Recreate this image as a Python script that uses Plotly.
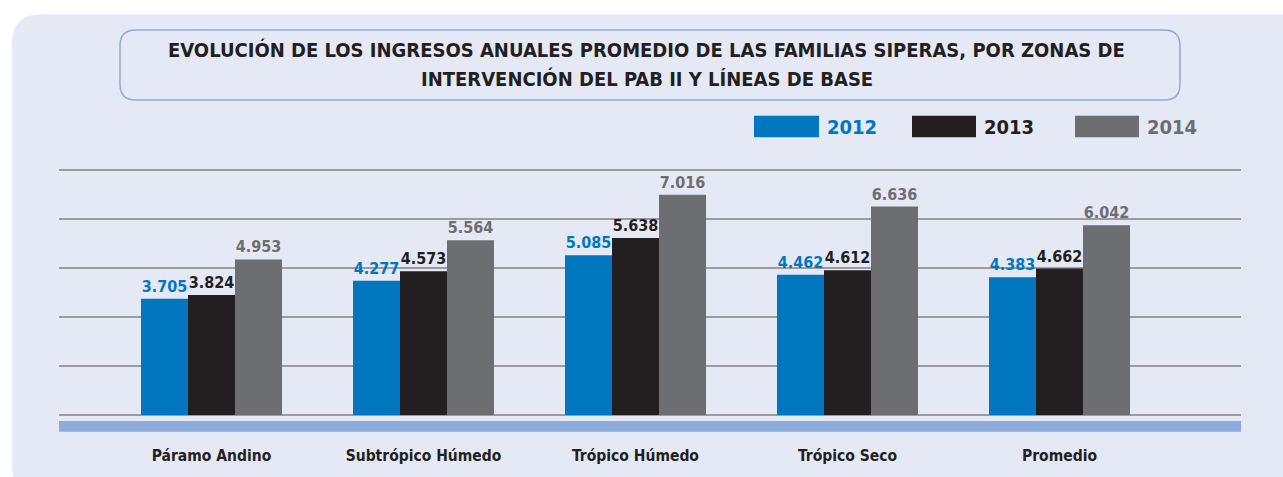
import plotly.graph_objects as go

# ---------------- data ----------------
categories = ["Páramo Andino", "Subtrópico Húmedo", "Trópico Húmedo", "Trópico Seco", "Promedio"]
years = ["2012", "2013", "2014"]
values_2012 = [3705, 4277, 5085, 4462, 4383]
values_2013 = [3824, 4573, 5638, 4612, 4662]
values_2014 = [4953, 5564, 7016, 6636, 6042]
title_line1 = "EVOLUCIÓN DE LOS INGRESOS ANUALES PROMEDIO DE LAS FAMILIAS SIPERAS, POR ZONAS DE"
title_line2 = "INTERVENCIÓN DEL PAB II Y LÍNEAS DE BASE"

# ---------------- style ----------------
colors = ["#0077be", "#231f20", "#6d6e71"]
FONT = "DejaVu Sans Condensed, sans-serif"
PANEL = "#e5e8f5"
BAND = "#8dabdb"
GRID = "#9c9c9c"

W, H = 1283, 477
ML, MR, MT, MB = 59, 42, 160, 58
PW, PH = W - ML - MR, H - MT - MB
PX_PER_K = 31.9           # pixels per 1000 units
Y_MAX = PH / PX_PER_K * 1000
DTICK = 49.7 / PX_PER_K * 1000
CAT_STEP = 212.0
FIRST_C = 211.5
X0 = (ML - FIRST_C) / CAT_STEP
X1 = (W - MR - FIRST_C) / CAT_STEP


def px(x):
    return (x - ML) / PW


def py(y):
    return (H - MB - y) / PH


def rrect(x0, y0, x1, y1, r):
    pts = [
        ("M", [(x0 + r, y0)]),
        ("L", [(x1 - r, y0)]),
        ("Q", [(x1, y0), (x1, y0 + r)]),
        ("L", [(x1, y1 - r)]),
        ("Q", [(x1, y1), (x1 - r, y1)]),
        ("L", [(x0 + r, y1)]),
        ("Q", [(x0, y1), (x0, y1 - r)]),
        ("L", [(x0, y0 + r)]),
        ("Q", [(x0, y0), (x0 + r, y0)]),
    ]
    s = ""
    for cmd, coords in pts:
        s += cmd + " " + " ".join(f"{px(a):.5f},{py(b):.5f}" for a, b in coords) + " "
    return s + "Z"


def fnt(size, color):
    return dict(family=FONT, size=size, color=color, weight="bold")


fig = go.Figure()
x_idx = list(range(len(categories)))
for name, vals, col in zip(years, [values_2012, values_2013, values_2014], colors):
    fig.add_trace(go.Bar(
        x=x_idx, y=vals, name=name,
        marker=dict(color=col, line=dict(width=0)),
        text=vals, texttemplate="%{y:,.0f}", textposition="outside",
        textfont=fnt(16, col),
        cliponaxis=False, constraintext="none",
        showlegend=False, hoverinfo="skip",
    ))

shapes = [
    dict(type="path", xref="paper", yref="paper", path=rrect(12, 12, 1310, 500, 30),
         fillcolor=PANEL, line=dict(width=0), layer="below"),
    dict(type="path", xref="paper", yref="paper", path=rrect(120, 28, 1180, 99, 16),
         fillcolor=PANEL, line=dict(color="#8eaadb", width=1.5), layer="below"),
    dict(type="rect", xref="paper", yref="paper", x0=px(59), x1=px(1241), y0=py(436), y1=py(425),
         fillcolor=BAND, line=dict(width=0), layer="below"),
]

annotations = [
    dict(text=title_line1, x=px(646), y=py(48), xref="paper", yref="paper", showarrow=False,
         xanchor="center", yanchor="middle", font=fnt(20, "#231f20")),
    dict(text=title_line2, x=px(647), y=py(78), xref="paper", yref="paper", showarrow=False,
         xanchor="center", yanchor="middle", font=fnt(20, "#231f20")),
]

legend_rects = [(754, 819), (912, 976), (1075, 1139)]
for (rx0, rx1), name, col in zip(legend_rects, years, colors):
    shapes.append(dict(type="rect", xref="paper", yref="paper", x0=px(rx0), x1=px(rx1),
                       y0=py(137), y1=py(115), fillcolor=col, line=dict(width=0)))
    annotations.append(dict(text=name, x=px(rx1 + 6), y=py(126.5), xref="paper", yref="paper",
                            showarrow=False, xanchor="left", yanchor="middle",
                            font=fnt(20, col)))

fig.update_layout(
    width=W, height=H,
    margin=dict(l=ML, r=MR, t=MT, b=MB, pad=0),
    paper_bgcolor="white", plot_bgcolor="rgba(0,0,0,0)",
    barmode="group", bargap=0.335, bargroupgap=0,
    separators=",.",
    shapes=shapes, annotations=annotations,
    xaxis=dict(range=[X0, X1], tickmode="array", tickvals=x_idx, ticktext=categories,
               showgrid=False, zeroline=False, showline=False, ticks="",
               tickfont=fnt(15.5, "#231f20"),
               ticklabelstandoff=29),
    yaxis=dict(range=[0, Y_MAX], tick0=0, dtick=DTICK, showgrid=True, gridcolor=GRID,
               gridwidth=1.5, zeroline=True, zerolinecolor=GRID, zerolinewidth=1.5,
               showticklabels=False, showline=False, ticks=""),
    font=dict(family=FONT),
)

fig.write_html("out.html", config={"displayModeBar": False},
               post_script="document.body.style.margin='0';")
